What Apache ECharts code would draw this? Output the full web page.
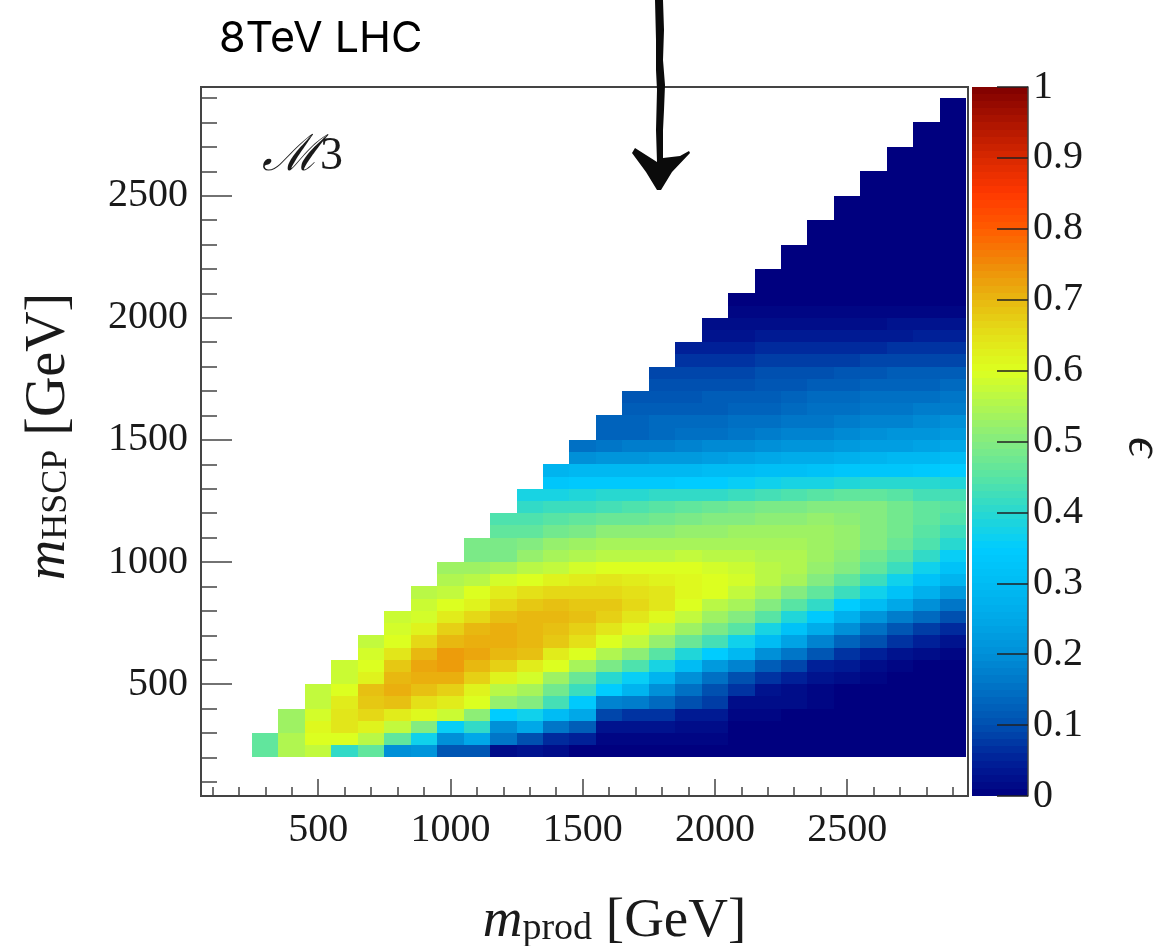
<!DOCTYPE html>
<html>
<head>
<meta charset="utf-8">
<title>M3 efficiency</title>
<script src="https://cdn.jsdelivr.net/npm/echarts@6/dist/echarts.min.js"></script>
<style>
  html, body { margin: 0; padding: 0; background: #fff; }
  #chart { width: 1157px; height: 946px; }
</style>
</head>
<body>
<div id="chart"></div>
<script>
// bin centres of m_prod, bins are 100 GeV wide
const prodCentres = [300, 400, 500, 600, 700, 800, 900, 1000, 1100, 1200, 1300, 1400, 1500, 1600,
  1700, 1800, 1900, 2000, 2100, 2200, 2300, 2400, 2500, 2600, 2700, 2800, 2900];
// lower edges of m_HSCP, bins are 50 GeV wide
const hscpEdges = [200, 250, 300, 350, 400, 450, 500, 550, 600, 650, 700, 750, 800, 850, 900, 950,
  1000, 1050, 1100, 1150, 1200, 1250, 1300, 1350, 1400, 1450, 1500, 1550, 1600, 1650, 1700, 1750,
  1800, 1850, 1900, 1950, 2000, 2050, 2100, 2150, 2200, 2250, 2300, 2350, 2400, 2450, 2500, 2550,
  2600, 2650, 2700, 2750, 2800, 2850];
// efficiency, one list per m_HSCP row (bottom first),
// each row is right aligned on the last m_prod bins
const efficiency = [
  [.46,.55,.57,.41,.46,.2,.21,.11,.11,.02,.03,.02,0,0,0,0,0,0,0,0,0,0,0,0,0,0,0],
  [.46,.55,.6,.6,.56,.46,.37,.2,.25,.16,.1,.06,.05,.01,.01,.01,.01,.01,0,0,0,0,0,0,0,0,0],
  [.53,.61,.64,.62,.57,.5,.36,.41,.2,.25,.16,.12,.03,.03,.03,.02,.02,0,0,0,0,0,0,0,0,0],
  [.53,.59,.64,.66,.63,.61,.58,.51,.35,.37,.3,.25,.09,.07,.07,.04,.04,.01,.01,0,0,0,0,0,0,0],
  [.57,.63,.68,.69,.65,.63,.6,.52,.5,.43,.34,.18,.17,.14,.1,.08,.02,.02,.02,.01,0,0,0,0,0],
  [.57,.6,.69,.71,.69,.67,.62,.56,.54,.48,.42,.35,.28,.2,.15,.1,.07,.03,.02,.01,0,0,0,0,0],
  [.58,.62,.7,.71,.71,.67,.62,.59,.53,.47,.4,.36,.28,.2,.15,.1,.07,.05,.03,.02,.01,0,0,0],
  [.58,.6,.68,.72,.73,.7,.67,.63,.6,.54,.49,.44,.38,.3,.22,.18,.12,.09,.05,.04,.02,.01,0,0],
  [.59,.64,.7,.73,.72,.7,.69,.63,.6,.55,.51,.45,.39,.35,.29,.2,.16,.11,.07,.05,.03,.02,.01],
  [.57,.6,.66,.7,.71,.71,.7,.68,.65,.6,.57,.52,.47,.43,.37,.3,.24,.18,.13,.1,.07,.05,.03],
  [.59,.62,.67,.7,.71,.7,.69,.67,.64,.61,.57,.53,.49,.45,.38,.32,.26,.2,.15,.11,.08,.06],
  [.58,.59,.63,.66,.69,.7,.7,.69,.67,.64,.61,.57,.53,.5,.45,.39,.34,.27,.21,.17,.14,.1],
  [.58,.6,.62,.66,.68,.69,.68,.68,.66,.64,.6,.56,.54,.5,.45,.41,.35,.3,.25,.2,.16],
  [.56,.57,.6,.63,.65,.66,.66,.66,.65,.64,.61,.6,.57,.54,.5,.46,.42,.37,.32,.27,.22],
  [.55,.56,.59,.6,.62,.63,.64,.63,.62,.61,.6,.59,.56,.54,.5,.46,.42,.37,.32,.28],
  [.53,.53,.54,.56,.57,.59,.6,.6,.6,.6,.59,.58,.56,.55,.52,.5,.46,.42,.37,.32],
  [.49,.49,.52,.54,.55,.56,.56,.56,.57,.56,.56,.55,.55,.53,.51,.48,.45,.41,.36],
  [.49,.49,.5,.52,.53,.54,.54,.54,.54,.54,.54,.54,.54,.53,.52,.5,.47,.44,.4],
  [.46,.46,.48,.49,.51,.51,.51,.52,.52,.53,.53,.53,.53,.52,.5,.48,.45,.42],
  [.44,.44,.45,.46,.47,.47,.48,.49,.5,.5,.51,.51,.52,.51,.5,.48,.46,.44],
  [.41,.42,.42,.43,.44,.45,.46,.47,.48,.49,.49,.5,.5,.5,.48,.46,.45],
  [.38,.38,.39,.4,.4,.41,.41,.41,.42,.43,.44,.45,.46,.46,.45,.43,.43],
  [.33,.34,.34,.34,.34,.35,.35,.36,.37,.38,.38,.39,.4,.4,.4,.39],
  [.28,.29,.29,.29,.29,.29,.3,.3,.31,.31,.32,.33,.33,.33,.34,.35],
  [.2,.21,.21,.22,.22,.23,.24,.25,.26,.26,.27,.28,.29,.29,.3],
  [.15,.16,.17,.17,.18,.19,.19,.2,.21,.21,.22,.23,.23,.24,.25],
  [.13,.13,.14,.15,.15,.16,.17,.18,.18,.19,.2,.21,.21,.22],
  [.13,.13,.14,.14,.14,.15,.15,.16,.16,.17,.18,.18,.19,.2],
  [.12,.12,.12,.12,.13,.13,.14,.15,.15,.16,.16,.17,.17],
  [.11,.11,.11,.12,.12,.12,.13,.14,.14,.15,.15,.15,.16],
  [.1,.1,.1,.1,.11,.11,.12,.12,.13,.13,.13,.14],
  [.09,.09,.09,.09,.1,.1,.1,.11,.11,.12,.12,.12],
  [.07,.07,.07,.08,.08,.08,.08,.09,.09,.09,.09],
  [.05,.05,.05,.06,.06,.06,.06,.06,.07,.07,.07],
  [.03,.03,.04,.04,.04,.04,.04,.04,.05,.05],
  [.02,.02,.02,.02,.02,.02,.02,.03,.03,.03],
  [.01,.01,.01,.01,.01,.01,.01,.01,.01],
  [0,0,0,0,0,0,0,0,0],
  [0,0,0,0,0,0,0,0],
  [0,0,0,0,0,0,0,0],
  [0,0,0,0,0,0,0],
  [0,0,0,0,0,0,0],
  [0,0,0,0,0,0],
  [0,0,0,0,0,0],
  [0,0,0,0,0],
  [0,0,0,0,0],
  [0,0,0,0],
  [0,0,0,0],
  [0,0,0],
  [0,0,0],
  [0,0],
  [0,0],
  [0],
  [0]
];
// colour scale bands, middle of each 0.01 wide band
const scaleBands = [.005, .015, .025, .035, .045, .055, .065, .075, .085, .095, .105, .115, .125, .135,
  .145, .155, .165, .175, .185, .195, .205, .215, .225, .235, .245, .255, .265, .275, .285, .295, .305,
  .315, .325, .335, .345, .355, .365, .375, .385, .395, .405, .415, .425, .435, .445, .455, .465, .475,
  .485, .495, .505, .515, .525, .535, .545, .555, .565, .575, .585, .595, .605, .615, .625, .635, .645,
  .655, .665, .675, .685, .695, .705, .715, .725, .735, .745, .755, .765, .775, .785, .795, .805, .815,
  .825, .835, .845, .855, .865, .875, .885, .895, .905, .915, .925, .935, .945, .955, .965, .975, .985, .995];
const majorTicks = [500, 1000, 1500, 2000, 2500];
const minorTicks = [100, 200, 300, 400, 500, 600, 700, 800, 900, 1000, 1100, 1200, 1300, 1400, 1500,
  1600, 1700, 1800, 1900, 2000, 2100, 2200, 2300, 2400, 2500, 2600, 2700, 2800, 2900];
const paletteColors = ['#00007f', '#002098', '#0050b0', '#0070c4', '#0090d8', '#00a8e8', '#00bcf4',
  '#00ccff', '#28d8d0', '#58e4a4', '#84ec80', '#b0f650', '#dcff20', '#e4e018', '#e8b810', '#f08a08',
  '#ff5c00', '#ff3800', '#d82800', '#ad1400', '#7f0000'];

const binWidth = 100;
const binHeight = 50;
const bandHeight = 0.01;
const serif = '"Liberation Serif", serif';
const ink = '#1a1a1a';
const frame = '#444';

const cells = [];
efficiency.forEach((row, r) => {
  const first = prodCentres.length - row.length;
  row.forEach((v, i) => cells.push([prodCentres[first + i], hscpEdges[r], v]));
});
const bands = scaleBands.map((v) => [0.5, v, v]);

function box(a, b, api) {
  const x0 = Math.round(a[0]);
  const y0 = Math.round(a[1]);
  return {
    type: 'rect',
    shape: { x: x0, y: y0, width: Math.round(b[0]) - x0, height: Math.round(b[1]) - y0 },
    style: { fill: api.visual('color') }
  };
}

function drawCell(params, api) {
  const xc = api.value(0);
  const y = api.value(1);
  return box(api.coord([xc - binWidth / 2, y + binHeight]), api.coord([xc + binWidth / 2, y]), api);
}

function drawBand(params, api) {
  const v = api.value(1);
  return box(api.coord([0, v + bandHeight / 2]), api.coord([1, v - bandHeight / 2]), api);
}

function titleRich(size, subSize, drop) {
  return {
    m: { fontFamily: serif, fontStyle: 'italic', fontSize: size, color: ink },
    sub: { fontFamily: serif, fontSize: subSize, color: ink, padding: [drop, 0, 0, 0] },
    u: { fontFamily: serif, fontSize: size, color: ink }
  };
}

const myChart = echarts.init(document.getElementById('chart'), null, { renderer: 'canvas' });
myChart.setOption({
  animation: false,
  backgroundColor: '#fff',
  grid: [
    { left: 201, top: 87, width: 767, height: 709, outerBoundsMode: 'none', show: true, borderColor: frame, borderWidth: 2 },
    { left: 972, top: 87, width: 56, height: 709, outerBoundsMode: 'none' }
  ],
  xAxis: [
    {
      // minor ticks and title
      type: 'value', gridIndex: 0, min: 57, max: 2957, position: 'bottom',
      splitLine: { show: false },
      axisLine: { lineStyle: { color: frame, width: 2 } },
      axisTick: { inside: true, length: 9, customValues: minorTicks, lineStyle: { color: frame, width: 1.5 } },
      axisLabel: { show: false },
      name: '{m|m}{sub|prod}{u| [GeV]}',
      nameLocation: 'middle',
      nameGap: 98,
      nameTextStyle: { padding: [0, 0, 0, 60], rich: titleRich(55, 38, 16) }
    },
    {
      // major ticks and labels
      type: 'value', gridIndex: 0, min: 57, max: 2957, position: 'bottom',
      splitLine: { show: false },
      axisLine: { show: false },
      axisTick: { inside: true, length: 17, customValues: majorTicks, lineStyle: { color: frame, width: 1.5 } },
      axisLabel: { customValues: majorTicks, formatter: (v) => String(v), fontFamily: serif, fontSize: 40, color: ink, margin: 14 }
    },
    { type: 'value', gridIndex: 1, min: 0, max: 1, show: false }
  ],
  yAxis: [
    {
      type: 'value', gridIndex: 0, min: 42, max: 2945, position: 'left',
      splitLine: { show: false },
      axisLine: { lineStyle: { color: frame, width: 2 } },
      axisTick: { inside: true, length: 16, customValues: minorTicks, lineStyle: { color: frame, width: 1.5 } },
      axisLabel: { show: false },
      name: '{m|m}{sub|HSCP}{u| [GeV]}',
      nameLocation: 'middle',
      nameRotate: 90,
      nameGap: 124,
      nameTextStyle: { padding: [0, 0, 0, 10], rich: titleRich(56, 36, 16) }
    },
    {
      type: 'value', gridIndex: 0, min: 42, max: 2945, position: 'left',
      splitLine: { show: false },
      axisLine: { show: false },
      axisTick: { inside: true, length: 31, customValues: majorTicks, lineStyle: { color: frame, width: 1.5 } },
      axisLabel: { customValues: majorTicks, formatter: (v) => String(v), fontFamily: serif, fontSize: 40, color: ink, margin: 13 }
    },
    {
      // colour scale axis
      type: 'value', gridIndex: 1, min: 0, max: 1, interval: 0.1, position: 'right', z: 10,
      splitLine: { show: false },
      axisLine: { onZero: false, lineStyle: { color: frame, width: 1.5 } },
      axisTick: { inside: true, length: 31, lineStyle: { color: '#222', width: 1.5 } },
      axisLabel: { fontFamily: serif, fontSize: 40, color: ink, margin: 5 }
    }
  ],
  visualMap: {
    type: 'continuous',
    show: false,
    seriesIndex: [0, 1],
    dimension: 2,
    min: 0,
    max: 1,
    inRange: { color: paletteColors }
  },
  series: [
    {
      type: 'custom',
      coordinateSystem: 'cartesian2d',
      xAxisIndex: 0,
      yAxisIndex: 0,
      encode: { x: 0, y: 1 },
      renderItem: drawCell,
      data: cells
    },
    {
      type: 'custom',
      coordinateSystem: 'cartesian2d',
      xAxisIndex: 2,
      yAxisIndex: 2,
      encode: { x: 0, y: 1 },
      renderItem: drawBand,
      data: bands
    }
  ],
  graphic: [
    { type: 'text', left: 219, top: 18, z: 20, style: { text: '8TeV LHC', font: '400 43px Inter', fill: '#000' } },
    {
      type: 'text', left: 262, top: 132, z: 20,
      style: {
        text: '{c|ℳ}{d|3}',
        rich: {
          c: { fontFamily: '"DejaVu Serif"', fontStyle: 'italic', fontSize: 50, fill: ink },
          d: { fontFamily: serif, fontSize: 46, fill: ink }
        }
      }
    },
    {
      // epsilon title of the colour scale
      type: 'text', x: 1142, y: 447, rotation: -Math.PI / 2, z: 20,
      style: { text: 'ϵ', font: 'italic 50px "Liberation Serif"', fill: ink, align: 'center', verticalAlign: 'middle' }
    },
    {
      // hand drawn arrow
      type: 'polygon', z: 30,
      shape: {
        points: [[655, 0], [663, 0], [664, 30], [663, 60], [665, 85], [664, 110], [663, 130], [663, 158],
          [680, 156], [689, 151], [690, 153], [672, 172], [661, 190], [657, 190], [646, 172], [632, 153],
          [635, 148], [657, 162], [656, 130], [657, 90], [656, 70], [656, 40]]
      },
      style: { fill: '#0b0b0b' }
    }
  ]
});

window.addEventListener('resize', () => {
  myChart.resize();
});
</script>
</body>
</html>
